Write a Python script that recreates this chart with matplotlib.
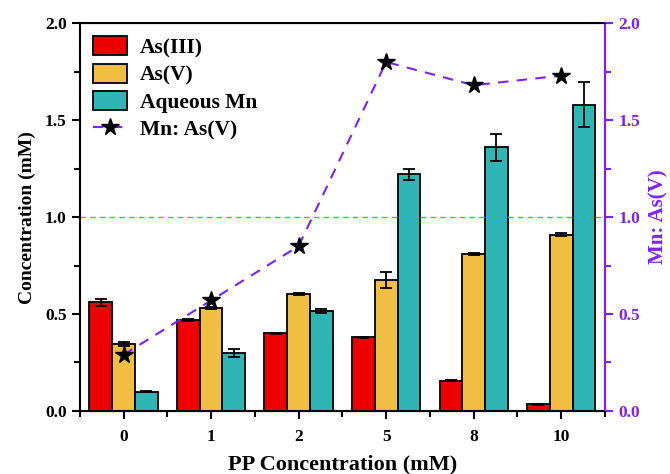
import numpy as np
import matplotlib.pyplot as plt
from matplotlib.ticker import MultipleLocator, FixedLocator

plt.rcParams['font.family'] = ['Liberation Serif', 'DejaVu Serif']
plt.rcParams['font.weight'] = 'bold'

# data
pp_labels = ['0', '1', '2', '5', '8', '10']
as3 = [0.56, 0.47, 0.40, 0.38, 0.155, 0.035]
as3_err = [0.02, 0.005, 0.003, 0.004, 0.003, 0.003]
as5 = [0.345, 0.53, 0.605, 0.675, 0.81, 0.91]
as5_err = [0.01, 0.005, 0.005, 0.04, 0.004, 0.008]
mn = [0.10, 0.30, 0.515, 1.22, 1.36, 1.58]
mn_err = [0.003, 0.02, 0.012, 0.03, 0.07, 0.115]
ratio = [0.29, 0.57, 0.85, 1.80, 1.68, 1.73]

purple = '#7F1FFF'
x = np.arange(len(pp_labels))
w = 0.26

fig = plt.figure(figsize=(6.7, 4.74), dpi=100)
ax = fig.add_axes([0.119, 0.133, 0.784, 0.818])
ekw = dict(ecolor='black', capsize=4, error_kw=dict(elinewidth=1.3, capthick=1.3))
b1 = ax.bar(x - w, as3, w, yerr=as3_err, color='#EE0000', edgecolor='black', linewidth=1.3, label='As(III)', **ekw)
b2 = ax.bar(x, as5, w, yerr=as5_err, color='#F0BE40', edgecolor='black', linewidth=1.3, label='As(V)', **ekw)
b3 = ax.bar(x + w, mn, w, yerr=mn_err, color='#30B5B5', edgecolor='black', linewidth=1.3, label='Aqueous Mn', **ekw)
ax.axhline(1.0, color='#22DD22', linestyle='--', linewidth=1.0, dashes=(4, 3))

ax.set_xlim(-0.5, 5.5)
ax.set_ylim(0, 2.0)
ax.set_xticks(x)
ax.set_xticklabels(pp_labels)
ax.xaxis.set_minor_locator(FixedLocator(np.arange(-0.5, 6, 1.0)))
ax.yaxis.set_major_locator(MultipleLocator(0.5))
ax.yaxis.set_minor_locator(MultipleLocator(0.25))
ax.tick_params(axis='both', which='major', direction='out', length=6, width=1.5, labelsize=12.5)
ax.tick_params(axis='x', which='major', pad=7)
ax.tick_params(axis='both', which='minor', direction='out', length=4, width=1.5)
ax.set_xlabel('PP Concentration (mM)', fontsize=16, fontweight='bold', labelpad=7)
ax.set_ylabel('Concentration (mM)', fontsize=14, fontweight='bold', labelpad=6)
for s in ax.spines.values():
    s.set_linewidth(1.5)

ax2 = ax.twinx()
ln, = ax2.plot(x, ratio, linestyle='--', dashes=(5, 4), color=purple, linewidth=1.5,
               marker='*', markersize=13, markerfacecolor='black', markeredgecolor='black',
               label='Mn: As(V)')
ax2.set_ylim(0, 2.0)
ax2.yaxis.set_major_locator(MultipleLocator(0.5))
ax2.yaxis.set_minor_locator(MultipleLocator(0.25))
ax2.tick_params(axis='y', which='major', direction='out', length=6, width=1.5,
                colors=purple, labelsize=12.5)
ax2.tick_params(axis='y', which='minor', direction='out', length=4, width=1.5, colors=purple)
ax2.spines['right'].set_color(purple)
ax2.spines['right'].set_linewidth(1.5)
ax2.spines['left'].set_visible(False)
ax2.set_ylabel('Mn: As(V)', fontsize=15, fontweight='bold', color=purple, labelpad=6)
for lbl in ax2.get_yticklabels():
    lbl.set_fontweight('bold')

handles = [b1, b2, b3, ln]
ax.legend(handles, [h.get_label() for h in handles], loc='upper left', frameon=False,
          fontsize=15.5, handlelength=1.6, handleheight=1.0, labelspacing=0.25,
          handletextpad=0.6, borderaxespad=0.2)

fig.savefig('out.png', dpi=100)
